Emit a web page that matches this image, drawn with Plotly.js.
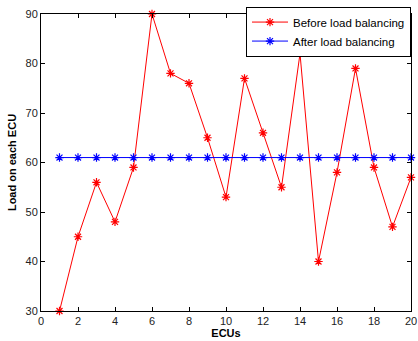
<!DOCTYPE html>
<html><head><meta charset="utf-8">
<script src="https://cdn.plot.ly/plotly-3.0.1.min.js"></script>
<style>html,body{margin:0;padding:0;background:#fff}#c{width:418px;height:341px}</style>
</head><body><div id="c"></div>
<script>
const ecus = [1,2,3,4,5,6,7,8,9,10,11,12,13,14,15,16,17,18,19,20];
const beforeLoad = [30,45,56,48,59,90,78,76,65,53,77,66,55,82,40,58,79,59,47,57];
const afterLoad = [61,61,61,61,61,61,61,61,61,61,61,61,61,61,61,61,61,61,61,61];
const xTicks = [0,2,4,6,8,10,12,14,16,18,20];
const yTicks = [30,40,50,60,70,80,90];

const mk = c => ({symbol:'asterisk-open', size:7, color:c, line:{color:c, width:1.2}});
const traces = [
  {x:ecus, y:beforeLoad, name:'Before load balancing', mode:'lines+markers', line:{color:'#ff0000', width:1}, marker:mk('#ff0000'), cliponaxis:false},
  {x:ecus, y:afterLoad, name:'After load balancing', mode:'lines+markers', line:{color:'#0000ff', width:1}, marker:mk('#0000ff'), cliponaxis:false}
];
const ax = {showline:true, linecolor:'#000', linewidth:1, mirror:'ticks', ticks:'inside', ticklen:4, tickcolor:'#000', showgrid:false, zeroline:false, tickfont:{family:'Liberation Sans, Arial', size:11, color:'#222'}};
const layout = {
  width:418, height:341, margin:{l:41, r:7, t:14, b:30, autoexpand:false},
  paper_bgcolor:'#fff', plot_bgcolor:'#fff', showlegend:true,
  xaxis:Object.assign({}, ax, {range:[0,20], tickvals:xTicks, title:{text:'<b>ECUs</b>', font:{family:'Liberation Sans, Arial', size:11, color:'#000'}, standoff:2}}),
  yaxis:Object.assign({}, ax, {range:[30,90], tickvals:yTicks, title:{text:'<b>Load on each ECU</b>', font:{family:'Liberation Sans, Arial', size:11, color:'#000'}, standoff:6}}),
  legend:{x:1, y:1.025, xanchor:'right', yanchor:'top', bgcolor:'#fff', bordercolor:'#000', borderwidth:1, font:{family:'Liberation Sans, Arial', size:11.5, color:'#000'}, tracegroupgap:0, itemwidth:36}
};
Plotly.newPlot('c', traces, layout, {displayModeBar:false, staticPlot:true});
</script></body></html>
